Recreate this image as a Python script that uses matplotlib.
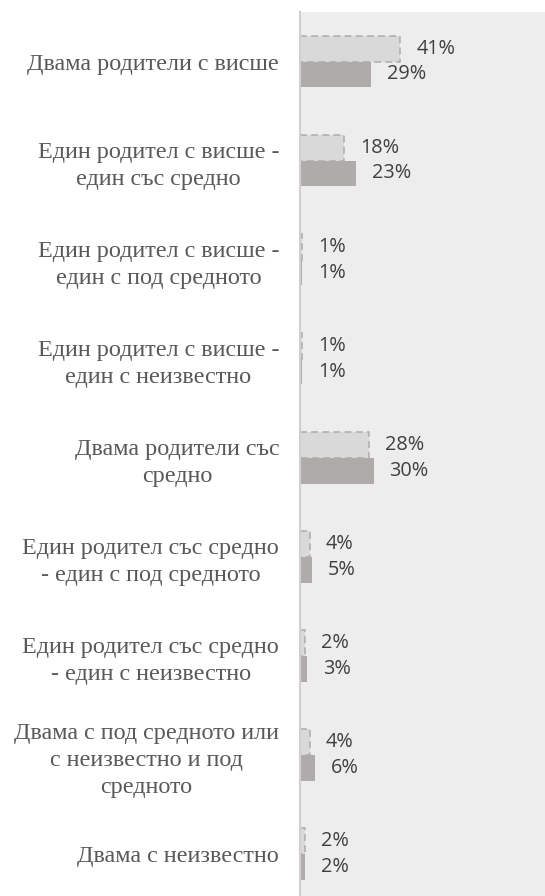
import numpy as np
import matplotlib
matplotlib.use('Agg')
import matplotlib.pyplot as plt

categories = ['Двама родители с висше',
              'Един родител с висше -\nедин със средно',
              'Един родител с висше -\nедин с под средното',
              'Един родител с висше -\nедин с неизвестно',
              'Двама родители със\nсредно',
              'Един родител със средно\n- един с под средното',
              'Един родител със средно\n- един с неизвестно',
              'Двама с под средното или\nс неизвестно и под\nсредното',
              'Двама с неизвестно']
series_light = [41, 18, 1, 1, 28, 4, 2, 4, 2]
series_dark = [29, 23, 1, 1, 30, 5, 3, 6, 2]

fig = plt.figure(figsize=(5.45, 8.96), dpi=100)
ax = fig.add_axes([300/545, 1 - 903.5/896, 245/545, 891.5/896])
ax.set_facecolor('#ededed')

ind = np.arange(len(categories))
h = 0.26
r1 = ax.barh(ind - h/2, series_light, h, color='#d9d9d9', edgecolor='#acacac',
             linewidth=1.1, linestyle=(0, (4.5, 2.8)))
r2 = ax.barh(ind + h/2, series_dark, h, color='#afabab', linewidth=0)

lab_kw = dict(padding=11.5, fontsize=14.3, color='#404040', family='Open Sans')
ax.bar_label(r1, labels=[f'{v}%' for v in series_light], **lab_kw)
ax.bar_label(r2, labels=[f'{v}%' for v in series_dark], **lab_kw)

ax.set_xlim(0, 100)
ax.set_ylim(len(categories) - 0.5, -0.5)
ax.set_xticks([])
ax.set_yticks(ind)
ax.set_yticklabels(categories, family='Liberation Serif', fontsize=17.4, color='#595959')
for t in ax.get_yticklabels():
    t.set_multialignment('center')
    t.set_linespacing(1.38)
ax.tick_params(axis='y', length=0, pad=15)

for s in ['top', 'right', 'bottom']:
    ax.spines[s].set_visible(False)
ax.spines['left'].set_color('#d0d0d0')
ax.spines['left'].set_linewidth(1.5)

fig.savefig('out.png', dpi=100)
